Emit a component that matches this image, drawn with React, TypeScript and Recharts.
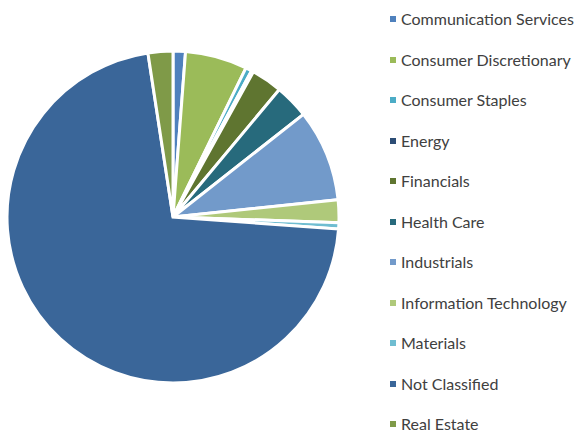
import { PieChart, Pie, Cell, Legend } from 'recharts';

const sectors = [
  'Communication Services',
  'Consumer Discretionary',
  'Consumer Staples',
  'Energy',
  'Financials',
  'Health Care',
  'Industrials',
  'Information Technology',
  'Materials',
  'Not Classified',
  'Real Estate',
];

const weights = [1.2, 6.0, 0.6, 0.2, 3.0, 3.3, 8.9, 2.2, 0.6, 71.0, 2.4];

const colors = [
  '#4F81BD',
  '#9BBB59',
  '#4BACC6',
  '#2C4D75',
  '#5F7530',
  '#276A7C',
  '#729ACA',
  '#AFC97A',
  '#6FBDD1',
  '#3A6699',
  '#7F9A48',
];

const data = sectors.map((name, i) => ({ name, value: weights[i] }));

function SectorLegend() {
  return (
    <div style={{ fontFamily: 'Lato, sans-serif', fontSize: 16, lineHeight: 1, color: '#404040' }}>
      {sectors.map((name, i) => (
        <div key={name} style={{ height: 40.5, display: 'flex', alignItems: 'center', whiteSpace: 'nowrap' }}>
          <span style={{ width: 6, height: 6, background: colors[i], display: 'inline-block', marginRight: 5 }} />
          {name}
        </div>
      ))}
    </div>
  );
}

export default function App() {
  return (
    <div style={{ position: 'absolute', left: 0, top: 0, background: '#fff' }}>
      <PieChart width={580} height={432} margin={{ top: 0, right: 0, bottom: 0, left: 0 }}>
        <Pie
          data={data}
          dataKey="value"
          nameKey="name"
          cx={173}
          cy={217}
          outerRadius={166}
          startAngle={90}
          endAngle={-270}
          stroke="#fff"
          strokeWidth={3}
          isAnimationActive={false}
        >
          {data.map((d, i) => (
            <Cell key={d.name} fill={colors[i]} />
          ))}
        </Pie>
        <Legend
          layout="vertical"
          align="right"
          verticalAlign="top"
          content={<SectorLegend />}
          wrapperStyle={{ left: 390, top: -1, width: 190 }}
        />
      </PieChart>
    </div>
  );
}
